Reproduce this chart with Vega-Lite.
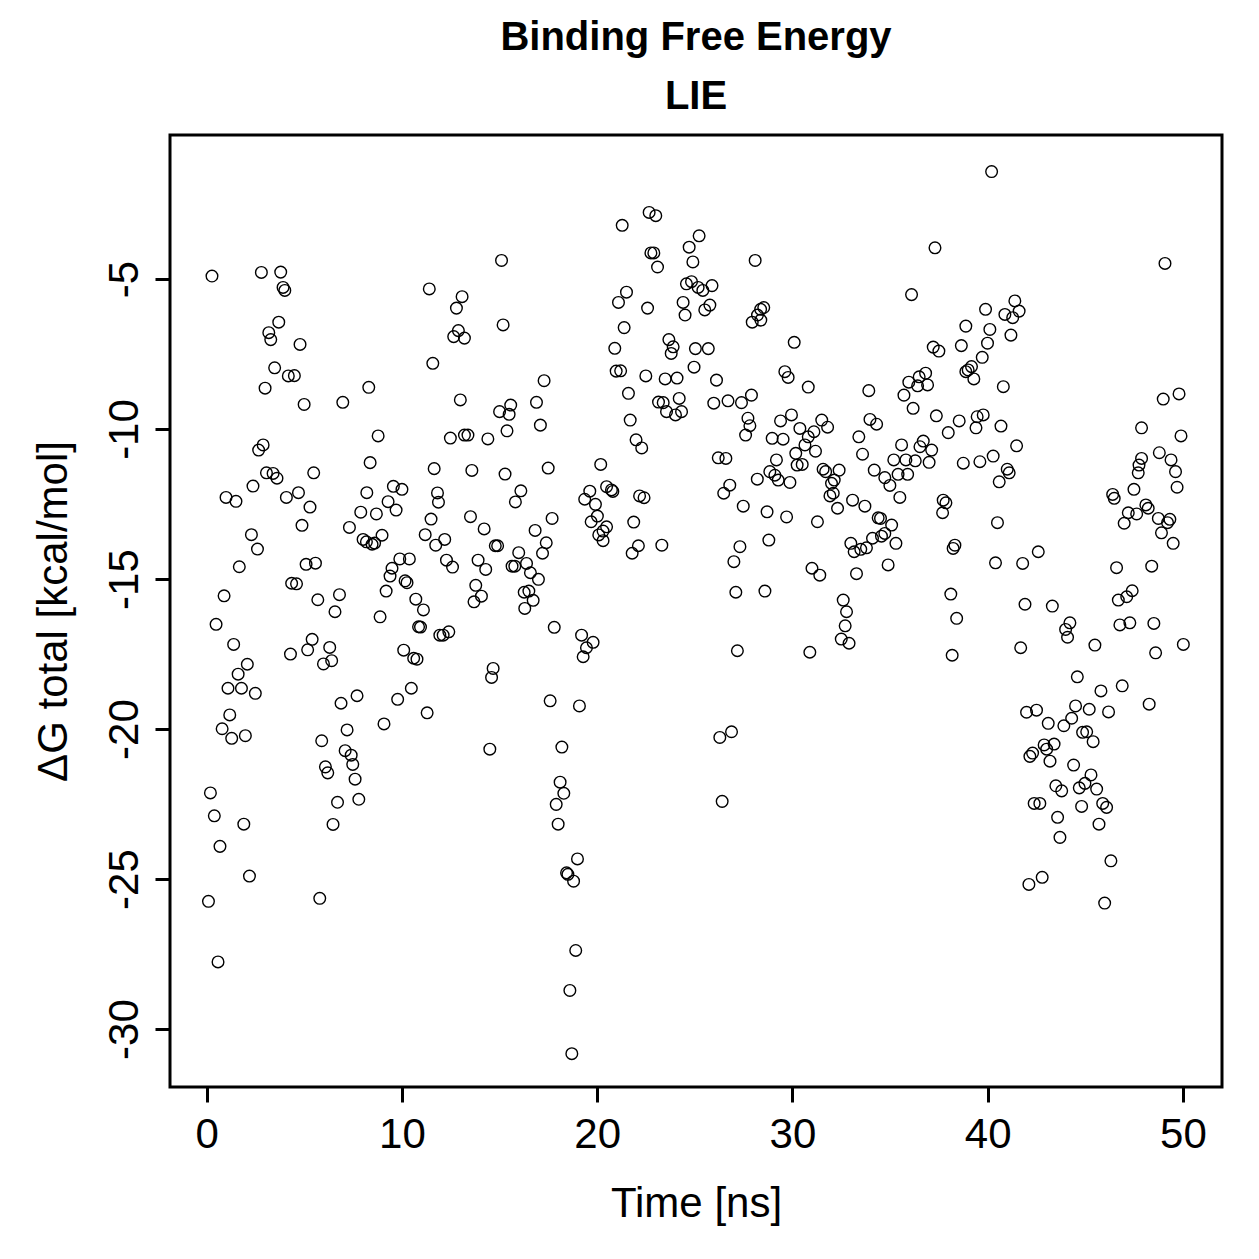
{
"$schema": "https://vega.github.io/schema/vega-lite/v6.json",
"width": 1052, "height": 952,
"autosize": {"type": "none"},
"padding": {"left": 170, "top": 135, "right": 37, "bottom": 172},
"background": "white",
"title": {"text": ["Binding Free Energy", "LIE"], "font": "Liberation Sans", "fontSize": 40, "fontWeight": "bold", "lineHeight": 59, "anchor": "middle", "baseline": "alphabetic", "offset": 24, "dy": 38, "color": "black"},
"data": {"values": [
{"t":0.27,"g":-4.9},{"t":2.8,"g":-4.78},{"t":3.79,"g":-4.77},{"t":3.91,"g":-5.28},{"t":4.0,"g":-5.38},{"t":11.4,"g":-5.33},{"t":3.69,"g":-6.44},{"t":3.18,"g":-6.79},{"t":3.28,"g":-7.02},{"t":4.78,"g":-7.18},{"t":11.58,"g":-7.81},{"t":3.48,"g":-7.96},{"t":4.18,"g":-8.23},{"t":4.49,"g":-8.22},{"t":2.99,"g":-8.64},{"t":8.3,"g":-8.61},{"t":6.97,"g":-9.11},{"t":4.99,"g":-9.18},{"t":8.78,"g":-10.23},{"t":2.89,"g":-10.53},{"t":2.66,"g":-10.7},{"t":8.37,"g":-11.12},{"t":11.65,"g":-11.32},{"t":3.06,"g":-11.46},{"t":3.4,"g":-11.48},{"t":3.6,"g":-11.64},{"t":5.48,"g":-11.46},{"t":2.37,"g":-11.9},{"t":9.56,"g":-11.91},{"t":10.0,"g":-12.01},{"t":11.82,"g":-12.13},{"t":0.99,"g":-12.28},{"t":1.5,"g":-12.41},{"t":4.08,"g":-12.28},{"t":4.7,"g":-12.12},{"t":8.2,"g":-12.12},{"t":11.87,"g":-12.44},{"t":5.29,"g":-12.6},{"t":9.29,"g":-12.42},{"t":9.7,"g":-12.7},{"t":7.89,"g":-12.77},{"t":8.69,"g":-12.83},{"t":11.49,"g":-13.0},{"t":4.88,"g":-13.21},{"t":7.31,"g":-13.28},{"t":11.19,"g":-13.52},{"t":2.29,"g":-13.52},{"t":2.6,"g":-14.0},{"t":8.01,"g":-13.68},{"t":8.18,"g":-13.76},{"t":8.47,"g":-13.84},{"t":8.6,"g":-13.8},{"t":8.98,"g":-13.54},{"t":11.73,"g":-13.87},{"t":9.89,"g":-14.33},{"t":10.38,"g":-14.33},{"t":1.67,"g":-14.59},{"t":5.09,"g":-14.51},{"t":5.57,"g":-14.47},{"t":9.49,"g":-14.64},{"t":9.39,"g":-14.9},{"t":10.16,"g":-15.06},{"t":10.26,"g":-15.12},{"t":4.35,"g":-15.14},{"t":4.6,"g":-15.16},{"t":0.89,"g":-15.56},{"t":5.69,"g":-15.69},{"t":6.8,"g":-15.52},{"t":9.19,"g":-15.4},{"t":10.71,"g":-15.67},{"t":11.1,"g":-16.03},{"t":6.57,"g":-16.09},{"t":8.88,"g":-16.26},
{"t":10.85,"g":-16.59},{"t":10.95,"g":-16.6},{"t":11.94,"g":-16.87},{"t":0.48,"g":-16.51},{"t":1.38,"g":-17.18},{"t":2.08,"g":-17.84},{"t":1.61,"g":-18.17},{"t":1.09,"g":-18.64},{"t":1.78,"g":-18.64},{"t":2.49,"g":-18.81},{"t":1.18,"g":-19.53},{"t":0.79,"g":-19.99},{"t":1.28,"g":-20.31},{"t":1.98,"g":-20.22},{"t":0.19,"g":-22.13},{"t":0.39,"g":-22.89},{"t":1.9,"g":-23.17},{"t":0.68,"g":-23.91},{"t":2.19,"g":-24.9},{"t":0.09,"g":-25.74},{"t":0.58,"g":-27.76},{"t":4.29,"g":-17.5},{"t":5.4,"g":-17.01},{"t":5.17,"g":-17.36},{"t":6.3,"g":-17.28},{"t":5.98,"g":-17.83},{"t":6.4,"g":-17.72},{"t":10.09,"g":-17.37},{"t":10.6,"g":-17.64},{"t":10.77,"g":-17.67},{"t":10.48,"g":-18.64},{"t":9.78,"g":-19.01},{"t":11.29,"g":-19.46},{"t":9.08,"g":-19.83},{"t":7.7,"g":-18.89},{"t":6.88,"g":-19.14},{"t":7.19,"g":-20.03},{"t":5.89,"g":-20.39},{"t":7.09,"g":-20.72},{"t":7.4,"g":-20.87},{"t":7.48,"g":-21.18},{"t":7.6,"g":-21.67},{"t":6.08,"g":-21.26},{"t":6.2,"g":-21.46},{"t":7.79,"g":-22.34},{"t":6.7,"g":-22.44},{"t":6.47,"g":-23.18},{"t":5.79,"g":-25.64},
{"t":22.66,"g":-2.78},{"t":23.0,"g":-2.89},{"t":21.28,"g":-3.21},{"t":15.1,"g":-4.38},{"t":22.75,"g":-4.13},{"t":22.9,"g":-4.13},{"t":23.09,"g":-4.6},{"t":24.71,"g":-3.94},{"t":25.22,"g":-3.56},{"t":24.9,"g":-4.43},{"t":13.08,"g":-5.59},{"t":12.79,"g":-5.97},{"t":21.5,"g":-5.44},{"t":21.09,"g":-5.78},{"t":22.58,"g":-5.97},{"t":24.57,"g":-5.16},{"t":24.83,"g":-5.09},{"t":25.17,"g":-5.28},{"t":24.4,"g":-5.78},{"t":24.5,"g":-6.2},{"t":15.18,"g":-6.53},{"t":12.89,"g":-6.72},{"t":12.65,"g":-6.92},{"t":13.2,"g":-6.97},{"t":21.38,"g":-6.62},{"t":20.9,"g":-7.31},{"t":23.67,"g":-7.02},{"t":23.89,"g":-7.26},{"t":23.79,"g":-7.48},{"t":25.03,"g":-7.32},{"t":24.96,"g":-7.94},{"t":20.97,"g":-8.07},{"t":21.2,"g":-8.06},{"t":17.28,"g":-8.39},{"t":23.48,"g":-8.33},{"t":24.09,"g":-8.3},{"t":22.49,"g":-8.23},{"t":21.6,"g":-8.81},{"t":24.2,"g":-8.98},{"t":12.99,"g":-9.03},{"t":16.89,"g":-9.11},{"t":15.57,"g":-9.2},{"t":15.0,"g":-9.42},{"t":15.49,"g":-9.51},{"t":23.14,"g":-9.1},{"t":23.38,"g":-9.12},{"t":23.55,"g":-9.42},{"t":24.01,"g":-9.53},{"t":24.32,"g":-9.42},{"t":17.09,"g":-9.87},{"t":15.38,"g":-10.06},{"t":21.69,"g":-9.7},{"t":21.99,"g":-10.36},{"t":22.28,"g":-10.63},{"t":12.48,"g":-10.3},{"t":13.2,"g":-10.2},{"t":13.38,"g":-10.2},{"t":14.4,"g":-10.33},{"t":13.58,"g":-11.38},{"t":15.28,"g":-11.5},{"t":17.49,"g":-11.3},{"t":20.18,"g":-11.18},{"t":16.09,"g":-12.06},{"t":15.81,"g":-12.43},{"t":19.62,"g":-12.07},{"t":19.36,"g":-12.34},{"t":19.91,"g":-12.51},{"t":20.48,"g":-11.92},{"t":20.73,"g":-12.03},{"t":20.8,"g":-12.08},{"t":22.17,"g":-12.23},{"t":22.4,"g":-12.29},{"t":13.51,"g":-12.92},{"t":14.21,"g":-13.33},{"t":17.69,"g":-12.98},{"t":16.82,"g":-13.38},{"t":17.39,"g":-13.79},{"t":17.2,"g":-14.14},{"t":20.01,"g":-12.9},{"t":19.69,"g":-13.09},{"t":20.48,"g":-13.26},{"t":20.3,"g":-13.4},{"t":20.08,"g":-13.53},{"t":20.3,"g":-13.72},{"t":21.87,"g":-13.1},{"t":22.11,"g":-13.89},{"t":21.79,"g":-14.14},{"t":23.31,"g":-13.87},{"t":12.19,"g":-13.68},{"t":14.78,"g":-13.89},{"t":14.9,"g":-13.89},{"t":12.28,"g":-14.37},{"t":12.59,"g":-14.6},{"t":13.9,"g":-14.37},{"t":14.29,"g":-14.68},{"t":15.98,"g":-14.12},{"t":15.78,"g":-14.57},{"t":16.38,"g":-14.48},{"t":16.58,"g":-14.79},{"t":16.99,"g":-15.01},{"t":15.64,"g":-14.57},{"t":13.78,"g":-15.21},{"t":14.07,"g":-15.57},{"t":13.69,"g":-15.76},{"t":16.26,"g":-15.44},{"t":16.5,"g":-15.4},{"t":16.72,"g":-15.71},{"t":16.29,"g":-15.98},
{"t":17.8,"g":-16.61},{"t":19.2,"g":-16.87},{"t":19.79,"g":-17.11},{"t":19.45,"g":-17.29},{"t":19.28,"g":-17.59},{"t":12.11,"g":-16.87},{"t":12.4,"g":-16.76},{"t":14.67,"g":-17.98},{"t":14.59,"g":-18.28},{"t":17.59,"g":-19.06},{"t":19.09,"g":-19.23},{"t":14.5,"g":-20.67},{"t":18.19,"g":-20.6},{"t":18.1,"g":-21.77},{"t":18.29,"g":-22.14},{"t":17.9,"g":-22.51},{"t":18.0,"g":-23.17},{"t":18.99,"g":-24.33},{"t":18.43,"g":-24.79},{"t":18.5,"g":-24.84},{"t":18.79,"g":-25.07},{"t":18.9,"g":-27.38},{"t":18.6,"g":-28.71},{"t":18.7,"g":-30.82},
{"t":28.09,"g":-4.38},{"t":37.3,"g":-3.96},{"t":36.1,"g":-5.52},{"t":25.41,"g":-5.38},{"t":25.88,"g":-5.22},{"t":25.51,"g":-6.03},{"t":25.77,"g":-5.87},{"t":28.37,"g":-6.01},{"t":28.53,"g":-5.95},{"t":27.94,"g":-6.44},{"t":28.38,"g":-6.37},{"t":28.21,"g":-6.2},{"t":30.09,"g":-7.11},{"t":25.69,"g":-7.32},{"t":26.11,"g":-8.37},{"t":29.61,"g":-8.09},{"t":29.78,"g":-8.28},{"t":30.81,"g":-8.6},{"t":25.97,"g":-9.14},{"t":26.7,"g":-9.06},{"t":27.39,"g":-9.12},{"t":27.9,"g":-8.87},{"t":27.72,"g":-9.64},{"t":27.82,"g":-9.89},{"t":27.6,"g":-10.2},{"t":29.95,"g":-9.53},{"t":29.39,"g":-9.73},{"t":28.96,"g":-10.31},{"t":29.52,"g":-10.34},{"t":30.38,"g":-9.98},{"t":30.81,"g":-10.26},{"t":31.1,"g":-10.09},{"t":30.64,"g":-10.53},{"t":31.5,"g":-9.7},{"t":31.8,"g":-9.94},{"t":31.18,"g":-10.74},{"t":30.17,"g":-10.81},{"t":30.24,"g":-11.2},{"t":30.5,"g":-11.18},{"t":29.18,"g":-11.03},{"t":28.84,"g":-11.42},{"t":29.27,"g":-11.7},{"t":29.87,"g":-11.78},{"t":29.1,"g":-11.54},{"t":26.2,"g":-10.96},{"t":26.59,"g":-10.98},{"t":26.79,"g":-11.87},{"t":26.48,"g":-12.14},{"t":28.2,"g":-11.67},{"t":27.48,"g":-12.57},{"t":28.7,"g":-12.76},{"t":29.7,"g":-12.93},{"t":31.28,"g":-13.09},{"t":31.57,"g":-11.34},{"t":31.7,"g":-11.42},{"t":32.39,"g":-11.37},{"t":32.14,"g":-11.7},{"t":32.0,"g":-11.81},{"t":32.09,"g":-12.14},{"t":31.92,"g":-12.23},{"t":32.31,"g":-12.64},{"t":33.08,"g":-12.37},{"t":33.71,"g":-12.57},{"t":33.4,"g":-10.26},{"t":33.59,"g":-10.84},{"t":33.91,"g":-8.72},{"t":33.97,"g":-9.68},{"t":34.31,"g":-9.84},{"t":34.19,"g":-11.37},{"t":34.73,"g":-11.62},{"t":34.99,"g":-11.88},{"t":35.5,"g":-12.28},{"t":34.39,"g":-12.96},{"t":34.51,"g":-12.98},{"t":35.08,"g":-13.2},{"t":34.73,"g":-13.48},{"t":34.56,"g":-13.57},{"t":35.3,"g":-13.81},{"t":34.1,"g":-13.64},{"t":33.79,"g":-13.96},{"t":33.5,"g":-14.01},{"t":33.16,"g":-14.09},{"t":32.99,"g":-13.81},{"t":34.9,"g":-14.53},{"t":33.28,"g":-14.82},{"t":32.6,"g":-15.7},{"t":32.77,"g":-16.09},{"t":31.0,"g":-14.64},{"t":31.4,"g":-14.87},{"t":27.31,"g":-13.92},{"t":27.0,"g":-14.42},{"t":28.79,"g":-13.7},{"t":27.1,"g":-15.44},{"t":28.59,"g":-15.4},{"t":35.19,"g":-11.03},{"t":35.81,"g":-11.03},{"t":36.29,"g":-11.06},{"t":37.0,"g":-11.11},{"t":35.59,"g":-10.53},{"t":36.7,"g":-10.4},{"t":36.53,"g":-10.59},{"t":37.13,"g":-10.7},{"t":35.41,"g":-11.51},{"t":35.9,"g":-11.51},{"t":35.71,"g":-8.87},{"t":36.18,"g":-9.31},{"t":35.96,"g":-8.44},{"t":36.41,"g":-8.56},{"t":36.49,"g":-8.26},{"t":36.82,"g":-8.14},{"t":36.92,"g":-8.53},{"t":37.37,"g":-9.56},{"t":37.21,"g":-7.27},{"t":37.5,"g":-7.4},{"t":38.65,"g":-7.22},{"t":37.98,"g":-10.12},{"t":38.54,"g":-9.73},{"t":38.75,"g":-11.14},{"t":37.72,"g":-12.37},{"t":37.86,"g":-12.46},{"t":37.69,"g":-12.79},{"t":38.32,"g":-13.87},{"t":38.23,"g":-13.98},{"t":38.11,"g":-15.5},
{"t":32.7,"g":-16.56},{"t":32.5,"g":-17.0},{"t":32.9,"g":-17.14},{"t":27.18,"g":-17.39},{"t":30.89,"g":-17.44},{"t":38.18,"g":-17.54},{"t":38.41,"g":-16.31},{"t":26.88,"g":-20.09},{"t":26.28,"g":-20.28},{"t":26.4,"g":-22.41},
{"t":40.2,"g":-1.42},{"t":49.08,"g":-4.48},{"t":41.39,"g":-5.73},{"t":40.88,"g":-6.18},{"t":41.61,"g":-6.07},{"t":41.28,"g":-6.29},{"t":41.19,"g":-6.87},{"t":39.89,"g":-6.01},{"t":38.88,"g":-6.57},{"t":40.11,"g":-6.68},{"t":39.99,"g":-7.14},{"t":39.72,"g":-7.61},{"t":39.0,"g":-8.03},{"t":38.88,"g":-8.09},{"t":39.17,"g":-7.92},{"t":39.29,"g":-8.33},{"t":40.8,"g":-8.59},{"t":48.99,"g":-9.0},{"t":49.8,"g":-8.83},{"t":47.88,"g":-9.96},{"t":49.9,"g":-10.23},{"t":39.46,"g":-9.59},{"t":39.77,"g":-9.53},{"t":39.4,"g":-9.96},{"t":40.68,"g":-9.9},{"t":41.48,"g":-10.56},{"t":39.6,"g":-11.09},{"t":40.28,"g":-10.9},{"t":41.0,"g":-11.34},{"t":41.1,"g":-11.46},{"t":40.59,"g":-11.76},{"t":40.5,"g":-13.12},{"t":40.4,"g":-14.46},{"t":41.79,"g":-14.48},{"t":42.59,"g":-14.09},{"t":41.91,"g":-15.84},{"t":43.31,"g":-15.9},{"t":46.4,"g":-12.18},{"t":46.48,"g":-12.31},{"t":47.49,"g":-12.01},{"t":47.88,"g":-10.98},{"t":47.75,"g":-11.2},{"t":47.71,"g":-11.46},{"t":48.79,"g":-10.79},{"t":49.39,"g":-11.03},{"t":49.62,"g":-11.42},{"t":49.7,"g":-11.94},{"t":47.2,"g":-12.79},{"t":47.63,"g":-12.83},{"t":46.99,"g":-13.14},{"t":48.1,"g":-12.53},{"t":48.22,"g":-12.64},{"t":48.74,"g":-12.98},{"t":49.33,"g":-13.01},{"t":49.21,"g":-13.12},{"t":48.9,"g":-13.46},{"t":49.5,"g":-13.81},{"t":46.6,"g":-14.62},{"t":48.4,"g":-14.57},{"t":46.69,"g":-15.7},{"t":47.12,"g":-15.59},{"t":47.4,"g":-15.39},
{"t":44.21,"g":-16.46},{"t":43.99,"g":-16.68},{"t":44.09,"g":-16.94},{"t":41.69,"g":-17.29},{"t":45.49,"g":-17.2},{"t":46.77,"g":-16.53},{"t":47.28,"g":-16.46},{"t":48.51,"g":-16.48},{"t":48.6,"g":-17.46},{"t":50.02,"g":-17.18},{"t":44.59,"g":-18.26},{"t":45.8,"g":-18.73},{"t":46.89,"g":-18.56},{"t":48.27,"g":-19.17},{"t":41.99,"g":-19.44},{"t":42.5,"g":-19.37},{"t":43.1,"g":-19.81},{"t":44.5,"g":-19.23},{"t":45.2,"g":-19.34},{"t":44.3,"g":-19.64},{"t":43.9,"g":-19.89},{"t":46.19,"g":-19.43},{"t":44.86,"g":-20.11},{"t":45.07,"g":-20.09},{"t":45.4,"g":-20.42},{"t":42.89,"g":-20.53},{"t":43.4,"g":-20.5},{"t":43.02,"g":-20.67},{"t":42.3,"g":-20.8},{"t":42.16,"g":-20.91},{"t":43.19,"g":-21.07},{"t":44.4,"g":-21.2},{"t":45.29,"g":-21.53},{"t":44.98,"g":-21.81},{"t":44.69,"g":-21.96},{"t":45.58,"g":-22.0},{"t":43.49,"g":-21.89},{"t":43.79,"g":-22.06},{"t":42.38,"g":-22.48},{"t":42.67,"g":-22.48},{"t":44.81,"g":-22.58},{"t":45.89,"g":-22.48},{"t":46.09,"g":-22.61},{"t":43.58,"g":-22.94},{"t":45.7,"g":-23.17},{"t":43.7,"g":-23.61},{"t":46.31,"g":-24.39},{"t":42.11,"g":-25.18},{"t":42.79,"g":-24.94},{"t":45.99,"g":-25.8}
]},
"mark": {"type": "point", "shape": "circle", "filled": false, "size": 135, "strokeWidth": 1.4, "color": "black", "opacity": 1},
"encoding": {
  "x": {"field": "t", "type": "quantitative", "scale": {"domain": [-1.88, 52.0], "nice": false, "zero": false},
        "axis": {"values": [0, 10, 20, 30, 40, 50], "title": "Time [ns]", "labelPadding": 12, "titlePadding": 28}},
  "y": {"field": "g", "type": "quantitative", "scale": {"domain": [-31.93, -0.2], "nice": false, "zero": false},
        "axis": {"values": [-5, -10, -15, -20, -25, -30], "title": "ΔG total [kcal/mol]", "labelExpr": "replace(datum.label, '−', '-')", "labelAngle": -90, "labelAlign": "center", "labelBaseline": "alphabetic", "labelPadding": 18, "titlePadding": 28}}
},
"config": {
  "view": {"stroke": "black", "strokeWidth": 3},
  "axis": {"domain": false, "grid": false, "ticks": true, "tickSize": 15, "tickWidth": 3, "tickColor": "black",
           "labelFont": "Liberation Sans", "labelFontSize": 42, "labelColor": "black", "labelFlush": false, "labelOverlap": false,
           "titleFont": "Liberation Sans", "titleFontSize": 42, "titleFontWeight": "normal", "titleColor": "black"}
}
}
